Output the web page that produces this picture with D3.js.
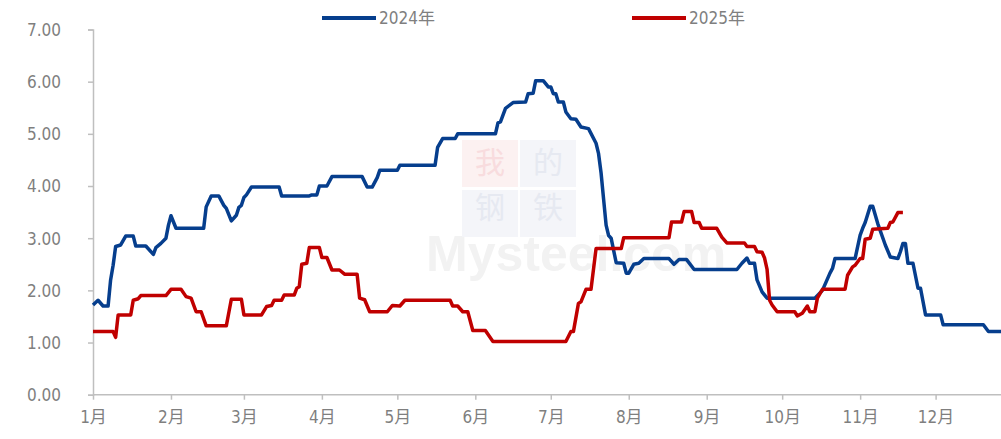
<!DOCTYPE html>
<html>
<head>
<meta charset="utf-8">
<script src="https://cdn.jsdelivr.net/npm/d3@7"></script>
<style>
  html, body { margin: 0; padding: 0; background: #fff; }
  svg { display: block; }
  .lbl { font-family: 'Liberation Sans Narrow', 'DejaVu Sans Condensed', 'Noto Sans CJK SC', sans-serif; fill: #7f7f7f; font-size: 17px; }
</style>
</head>
<body>
<svg id="chart" width="1001" height="439"></svg>
<script>
// day index from Jan 1
const days2024 = [0, 2, 4, 6, 7, 8, 9, 11, 13, 16, 17, 21, 24, 25, 27, 29, 30, 31, 33, 44, 45, 47, 50, 52, 53, 55, 57, 58, 59, 60, 61, 63, 74, 75, 86, 87, 89, 90, 93, 95, 107, 109, 111, 113, 114, 121, 122, 136, 137, 139, 144, 145, 160, 161, 162, 164, 167, 172, 173, 175, 176, 179, 181, 182, 183, 184, 185, 187, 188, 190, 192, 194, 197, 200, 201, 202, 203, 204, 205, 206, 208, 211, 212, 213, 215, 217, 219, 229, 231, 233, 236, 239, 256, 258, 260, 261, 263, 264, 266, 268, 287, 290, 293, 294, 295, 303, 305, 306, 307, 309, 310, 312, 315, 317, 320, 321, 322, 323, 324, 326, 328, 329, 331, 337, 338, 354, 356, 361]
const values2024 = [1.72, 1.81, 1.70, 1.70, 2.20, 2.48, 2.84, 2.87, 3.04, 3.04, 2.85, 2.85, 2.69, 2.82, 2.90, 3.00, 3.25, 3.43, 3.19, 3.19, 3.60, 3.81, 3.81, 3.63, 3.57, 3.33, 3.44, 3.59, 3.63, 3.78, 3.83, 3.98, 3.98, 3.81, 3.81, 3.83, 3.83, 4.00, 4.00, 4.18, 4.18, 3.98, 3.98, 4.16, 4.30, 4.30, 4.40, 4.40, 4.74, 4.91, 4.91, 5.00, 5.00, 5.21, 5.23, 5.49, 5.60, 5.61, 5.77, 5.78, 6.02, 6.02, 5.90, 5.90, 5.77, 5.77, 5.61, 5.61, 5.42, 5.29, 5.28, 5.13, 5.10, 4.82, 4.62, 4.25, 3.75, 3.25, 3.05, 3.00, 2.53, 2.52, 2.33, 2.33, 2.50, 2.52, 2.61, 2.61, 2.50, 2.59, 2.59, 2.40, 2.40, 2.52, 2.62, 2.52, 2.52, 2.20, 1.97, 1.85, 1.85, 2.00, 2.33, 2.42, 2.61, 2.61, 3.06, 3.19, 3.30, 3.61, 3.61, 3.28, 2.87, 2.64, 2.61, 2.74, 2.90, 2.90, 2.52, 2.52, 2.04, 2.04, 1.53, 1.53, 1.34, 1.34, 1.21, 1.21]

const days2025 = [0, 8, 9, 10, 15, 16, 18, 19, 29, 31, 35, 37, 39, 41, 43, 45, 53, 55, 59, 60, 67, 69, 71, 72, 75, 76, 80, 81, 82, 83, 85, 86, 90, 91, 93, 95, 98, 100, 105, 106, 108, 110, 117, 119, 122, 124, 142, 143, 145, 147, 149, 151, 156, 159, 188, 190, 191, 193, 194, 196, 198, 200, 210, 211, 229, 230, 234, 235, 238, 239, 241, 242, 248, 250, 252, 259, 260, 263, 264, 266, 267, 268, 269, 270, 272, 279, 280, 282, 284, 285, 287, 288, 290, 299, 300, 302, 303, 305, 306, 307, 309, 310, 316, 317, 318, 320, 322]
const values2025 = [1.21, 1.21, 1.10, 1.53, 1.53, 1.81, 1.84, 1.90, 1.90, 2.02, 2.02, 1.88, 1.85, 1.59, 1.59, 1.32, 1.32, 1.83, 1.83, 1.53, 1.53, 1.69, 1.71, 1.81, 1.81, 1.91, 1.91, 2.04, 2.07, 2.50, 2.52, 2.82, 2.82, 2.63, 2.63, 2.39, 2.39, 2.31, 2.31, 1.85, 1.82, 1.59, 1.59, 1.71, 1.70, 1.81, 1.81, 1.70, 1.70, 1.59, 1.59, 1.23, 1.23, 1.02, 1.02, 1.21, 1.21, 1.75, 1.78, 2.02, 2.02, 2.80, 2.80, 3.01, 3.01, 3.31, 3.31, 3.51, 3.51, 3.30, 3.30, 3.19, 3.19, 3.02, 2.91, 2.91, 2.84, 2.84, 2.74, 2.73, 2.62, 2.40, 1.81, 1.72, 1.59, 1.59, 1.51, 1.56, 1.70, 1.59, 1.59, 1.85, 2.02, 2.02, 2.29, 2.45, 2.48, 2.61, 2.61, 2.98, 3.00, 3.17, 3.19, 3.30, 3.31, 3.49, 3.49]

const monthStarts = [0, 31, 60, 91, 121, 152, 182, 213, 244, 274, 305, 335]
const monthLabels = ['1月', '2月', '3月', '4月', '5月', '6月', '7月', '8月', '9月', '10月', '11月', '12月']
const yTicks = [0, 1, 2, 3, 4, 5, 6, 7]
const seriesNames = ['2024年', '2025年']
const colors = ['#063e8d', '#c00000']

const svg = d3.select('#chart')

const x = d3.scaleLinear().domain([0, 361]).range([93, 1001])
const y = d3.scaleLinear().domain([0, 7]).range([394.7, 29.5])

// watermark, very faint
const wm = svg.append('g').attr('class', 'watermark')
wm.append('text').attr('x', 426).attr('y', 271).attr('font-family', "'Liberation Sans', Arial, sans-serif")
  .attr('font-weight', 'bold').attr('font-size', 50).attr('fill', '#f2f2f2').text('Mysteel.com')
const wmBoxes = [[462, 140, '#fcefef'], [520, 140, '#f3f4f8'], [462, 190, '#f3f4f8'], [520, 190, '#f3f4f8']]
wmBoxes.forEach(([bx, by, col]) => {
  wm.append('rect').attr('x', bx).attr('y', by).attr('width', 56).attr('height', 47).attr('fill', col).attr('fill-opacity', 0.9)
})
const wmChars = [['我', 490, 162, '#f8dcde'], ['的', 548, 162, '#e6e9f1'], ['钢', 490, 207, '#e6e9f1'], ['铁', 548, 207, '#e6e9f1']]
wmChars.forEach(([c, cx, cy, col]) => {
  wm.append('text').attr('x', cx).attr('y', cy).attr('dy', '0.35em').attr('text-anchor', 'middle')
    .attr('font-family', "'Noto Sans CJK SC', sans-serif").attr('font-size', 30).attr('fill', col).text(c)
})

// axes
const yAxis = svg.append('g').attr('transform', `translate(${x(0)},0)`)
  .call(d3.axisLeft(y).tickValues(yTicks).tickSize(5).tickFormat(d3.format('.2f')))
yAxis.select('.domain').attr('stroke', '#bfbfbf').attr('stroke-width', 1.5)
yAxis.selectAll('.tick line').attr('stroke', '#bfbfbf').attr('stroke-width', 1.5)
yAxis.selectAll('.tick text').attr('class', 'lbl').attr('x', -32).attr('dy', '0.35em')

const xAxis = svg.append('g').attr('transform', `translate(0,${y(0)})`)
  .call(d3.axisBottom(x).tickValues(monthStarts).tickSize(5).tickFormat((d, i) => monthLabels[i]))
xAxis.select('.domain').attr('stroke', '#bfbfbf').attr('stroke-width', 1.5).attr('d', `M${x(0)},0H1001`)
xAxis.selectAll('.tick line').attr('stroke', '#bfbfbf').attr('stroke-width', 1.5)
xAxis.selectAll('.tick text').attr('class', 'lbl').attr('y', 22).attr('dy', '0.35em')

// lines
const line = d3.line().x((d) => x(d[0])).y((d) => y(d[1]))
const series = [
  d3.zip(days2024, values2024),
  d3.zip(days2025, values2025),
]
series.forEach((pts, i) => {
  svg.append('path').datum(pts)
    .attr('fill', 'none')
    .attr('stroke', colors[i])
    .attr('stroke-width', 3.5)
    .attr('stroke-linejoin', 'round')
    .attr('d', line)
})

// legend
const legendX = [322, 632]
seriesNames.forEach((name, i) => {
  const g = svg.append('g').attr('transform', `translate(${legendX[i]},18)`)
  g.append('line').attr('x1', 0).attr('x2', 54).attr('stroke', colors[i]).attr('stroke-width', 4)
  g.append('text').attr('class', 'lbl').attr('x', 57).attr('dy', '0.35em').text(name)
})
</script>
</body>
</html>
